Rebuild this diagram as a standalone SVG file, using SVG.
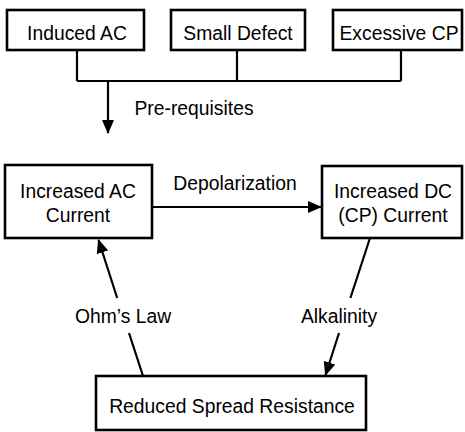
<svg xmlns="http://www.w3.org/2000/svg" width="465" height="432" viewBox="0 0 465 432">
<style>
.box{fill:#fff;stroke:#000;stroke-width:2.6}
.t{font-family:"Liberation Sans",Arial,sans-serif;font-size:21px;fill:#000;text-anchor:middle}
.c{fill:none;stroke:#000;stroke-width:2.2}
</style>
<defs>
<marker id="ah" markerUnits="userSpaceOnUse" markerWidth="14" markerHeight="12" refX="13" refY="6" orient="auto">
<path d="M0,0 L14,6 L0,12 Z" fill="#000"/>
</marker>
</defs>
<rect width="465" height="432" fill="#fff"/>
<g id="connectors">
<path class="c" d="M77,50 V81 M237,50 V81 M401,50 V81 M77,81 H401"/>
<path class="c" d="M108,81 V133" marker-end="url(#ah)"/>
<path class="c" d="M152,207 H321" marker-end="url(#ah)"/>
<path class="c" d="M370,238 L350.4,298"/>
<path class="c" d="M339,333 L325.5,375" marker-end="url(#ah)"/>
<path class="c" d="M143,376 L129,333"/>
<path class="c" d="M117.2,298 L98.5,240" marker-end="url(#ah)"/>
<text class="t" transform="translate(194,115) scale(0.92,1)">Pre-requisites</text>
<text class="t" transform="translate(235,190) scale(0.92,1)">Depolarization</text>
<text class="t" transform="translate(123,323) scale(0.92,1)">Ohm’s Law</text>
<text class="t" transform="translate(339,323) scale(0.92,1)">Alkalinity</text>
</g>
<g id="induced-ac">
<rect class="box" x="7" y="10" width="137" height="40"/>
<text class="t" transform="translate(77,39.5) scale(0.92,1)">Induced AC</text>
</g>
<g id="small-defect">
<rect class="box" x="171" y="10" width="134" height="40"/>
<text class="t" transform="translate(238,39.5) scale(0.92,1)">Small Defect</text>
</g>
<g id="excessive-cp">
<rect class="box" x="333" y="10" width="129" height="40"/>
<text class="t" transform="translate(399,39.5) scale(0.92,1)">Excessive CP</text>
</g>
<g id="increased-ac">
<rect class="box" x="5" y="165" width="147" height="73"/>
<text class="t" transform="translate(78,198) scale(0.92,1)">Increased AC</text>
<text class="t" transform="translate(78,222) scale(0.92,1)">Current</text>
</g>
<g id="increased-dc">
<rect class="box" x="322" y="166" width="140" height="72"/>
<text class="t" transform="translate(393,198) scale(0.92,1)">Increased DC</text>
<text class="t" transform="translate(393,222) scale(0.92,1)">(CP) Current</text>
</g>
<g id="reduced-resistance">
<rect class="box" x="96" y="376" width="270" height="54"/>
<text class="t" transform="translate(232,413) scale(0.92,1)">Reduced Spread Resistance</text>
</g>
</svg>
